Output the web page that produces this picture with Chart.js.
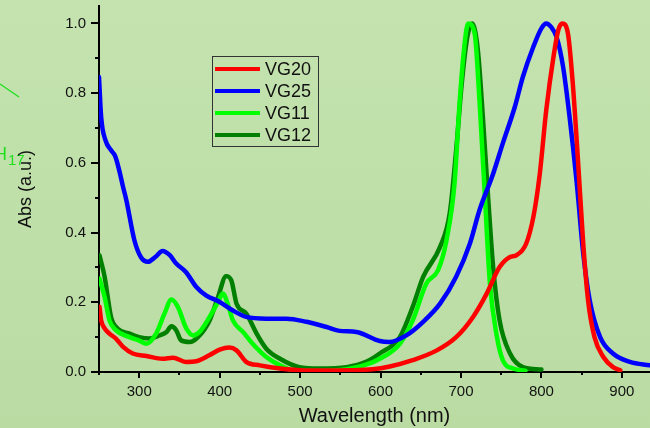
<!DOCTYPE html>
<html><head><meta charset="utf-8">
<script src="https://cdn.jsdelivr.net/npm/chart.js@4/dist/chart.umd.min.js"></script>
<style>html,body{margin:0;padding:0;background:#bfe0a8;}canvas{display:block}</style>
</head><body>
<canvas id="c" width="650" height="428"></canvas>
<script>
// ---- data (wavelength in nm, absorbance normalised) ----
const seriesNames = ['VG20', 'VG25', 'VG11', 'VG12'];

const vg20Nm  = [250.6,252.7,257,263,271,280,292,309,329,342,358,371,387,400,412,421,433,450,475,500,530,560,590,610,640,670,694,715,732,748,761,769,781,790,798,806,815,821,826,833,839,846,852,858,866,877,889,898];
const vg20Abs = [0.187,0.148,0.125,0.11,0.096,0.072,0.053,0.046,0.038,0.041,0.029,0.031,0.048,0.064,0.07,0.062,0.029,0.019,0.01,0.005,0.004,0.005,0.008,0.015,0.034,0.062,0.10,0.158,0.225,0.301,0.33,0.335,0.368,0.445,0.569,0.751,0.904,0.981,1.0,0.971,0.828,0.588,0.368,0.206,0.10,0.043,0.014,0.005];

const vg25Nm  = [250,252.7,258,265,270,275,280,284,294,302,311,320,329,338,346,358,371,383,400,416,433,458,483,508,533,549,570,599,611,632,653,674,694,711,723,740,752,767,777,790,800,806,812,819,827,835,844,852,860,873,889,910,935];
const vg25Abs = [0.846,0.731,0.665,0.636,0.62,0.58,0.53,0.493,0.378,0.33,0.316,0.33,0.347,0.335,0.311,0.287,0.244,0.220,0.201,0.177,0.158,0.153,0.153,0.144,0.129,0.118,0.115,0.089,0.086,0.105,0.144,0.196,0.273,0.368,0.464,0.569,0.656,0.761,0.847,0.933,0.986,1.0,0.99,0.96,0.875,0.732,0.541,0.34,0.206,0.10,0.053,0.029,0.019];

const vg11Nm  = [250.6,257,263,271,288,300,309,321,331.5,340,348,358.5,367,375,387.5,398,404,410,416.5,429,441,458,475,491,520,550,580,599,624,640,657,671.5,682,692,698.5,705,709,717,723,730,736,744,752,765,780];
const vg11Abs = [0.268,0.215,0.148,0.12,0.10,0.09,0.081,0.11,0.168,0.208,0.187,0.125,0.105,0.115,0.158,0.201,0.225,0.196,0.148,0.115,0.081,0.043,0.019,0.005,0.003,0.006,0.02,0.038,0.081,0.148,0.254,0.292,0.378,0.541,0.78,0.952,1.0,0.971,0.78,0.493,0.254,0.11,0.034,0.01,0.004];

const vg12Nm  = [250.6,257,265,273,288,300,313,325,334,340,346,352,362.6,373,387.5,398,408,414.5,421,433,446,458,475,499,524,558,582,599,624,640,653,674,686,694,701,708,714,721,727.5,734,740,748,761,777,800];
const vg12Abs = [0.335,0.273,0.158,0.125,0.11,0.10,0.096,0.105,0.115,0.131,0.12,0.091,0.086,0.10,0.148,0.215,0.275,0.263,0.196,0.168,0.11,0.067,0.038,0.014,0.01,0.014,0.029,0.053,0.10,0.187,0.273,0.359,0.455,0.636,0.828,0.962,1.0,0.923,0.722,0.493,0.301,0.148,0.053,0.014,0.007];

const xTickValues = [300, 400, 500, 600, 700, 800, 900];
const yTickValues = [0, 0.2, 0.4, 0.6, 0.8, 1.0];

// ---- build ----
const FONT = "'Liberation Sans', Arial, sans-serif";
const colors = ['#ff0000', '#0000ff', '#00ff00', '#008000'];
const pairs = [[vg20Nm, vg20Abs], [vg25Nm, vg25Abs], [vg11Nm, vg11Abs], [vg12Nm, vg12Abs]];
const datasets = pairs.map((p, i) => ({
  label: seriesNames[i],
  data: p[0].map((x, j) => ({x: x, y: p[1][j]})),
  borderColor: colors[i],
  backgroundColor: colors[i],
  borderWidth: 4.5,
  pointRadius: 0,
  fill: false,
  cubicInterpolationMode: 'monotone',
  borderCapStyle: 'round',
  borderJoinStyle: 'round'
}));

const bgPlugin = {
  id: 'bg',
  beforeDraw(chart) {
    const ctx = chart.ctx;
    const g = ctx.createLinearGradient(0, 0, 0, chart.height);
    g.addColorStop(0, '#c4e3af');
    g.addColorStop(1, '#badca3');
    ctx.save();
    ctx.fillStyle = g;
    ctx.fillRect(0, 0, chart.width, chart.height);
    // stray fragments at the left edge of the original figure
    ctx.strokeStyle = '#1ee01e';
    ctx.lineWidth = 1.3;
    ctx.beginPath(); ctx.moveTo(0, 84); ctx.lineTo(19, 97); ctx.stroke();
    ctx.fillStyle = '#1ee01e';
    ctx.textBaseline = 'alphabetic';
    ctx.font = '18px ' + FONT;
    ctx.fillText('H', -6, 160);
    ctx.font = '15px ' + FONT;
    ctx.fillText('17', 8, 165);
    ctx.restore();
  }
};

const ticksPlugin = {
  id: 'minorTicks',
  afterDraw(chart) {
    const ctx = chart.ctx;
    const xs = chart.scales.x, ys = chart.scales.y;
    const a = chart.chartArea;
    ctx.save();
    ctx.strokeStyle = '#000';
    ctx.lineWidth = 2;
    ctx.beginPath();
    for (let v = 250; v <= xs.max; v += 50) {
      const px = Math.round(xs.getPixelForValue(v));
      const len = (v % 100 === 0) ? 6 : 3;
      ctx.moveTo(px, a.bottom); ctx.lineTo(px, a.bottom + len);
    }
    for (let k = 0; k <= 10; k++) {
      const v = k / 10;
      const py = Math.round(ys.getPixelForValue(v));
      const len = (k % 2 === 0) ? 8 : 4;
      ctx.moveTo(a.left, py); ctx.lineTo(a.left - len, py);
    }
    ctx.stroke();
    ctx.restore();
  }
};

const legendPlugin = {
  id: 'boxLegend',
  afterDraw(chart) {
    const ctx = chart.ctx;
    ctx.save();
    ctx.strokeStyle = '#333';
    ctx.lineWidth = 1;
    ctx.strokeRect(212.5, 56.5, 106, 90);
    chart.data.datasets.forEach((ds, i) => {
      const y = 69 + i * 22;
      ctx.strokeStyle = ds.borderColor;
      ctx.lineWidth = 4;
      ctx.beginPath(); ctx.moveTo(215, y); ctx.lineTo(260, y); ctx.stroke();
      ctx.fillStyle = '#111';
      ctx.font = '18px ' + FONT;
      ctx.textBaseline = 'middle';
      ctx.fillText(ds.label, 265, y + 1);
    });
    ctx.restore();
  }
};

new Chart(document.getElementById('c'), {
  type: 'line',
  data: { datasets: datasets },
  options: {
    responsive: false,
    animation: false,
    devicePixelRatio: 1,
    layout: { padding: { top: 6, right: 0, left: 0, bottom: 0 } },
    plugins: { legend: { display: false }, tooltip: { enabled: false } },
    scales: {
      x: {
        type: 'linear', min: 250, max: 935,
        afterBuildTicks(s) { s.ticks = xTickValues.map(v => ({value: v})); },
        afterFit(s) { s.height = 56; s.paddingLeft = 0; s.paddingRight = 0; },
        grid: { display: true, drawOnChartArea: false, drawTicks: false },
        border: { display: true, color: '#000', width: 2 },
        ticks: { color: '#111', padding: 11, maxRotation: 0, autoSkip: false,
                 font: { family: FONT, size: 15 }, callback: v => String(v) },
        title: { display: true, text: 'Wavelength (nm)', color: '#111',
                 font: { family: FONT, size: 20 }, padding: { top: 0, bottom: 0 } }
      },
      y: {
        type: 'linear', min: 0, max: 1.05,
        afterBuildTicks(s) { s.ticks = yTickValues.map(v => ({value: v})); },
        afterFit(s) { s.width = 99; s.paddingTop = 0; s.paddingBottom = 0; },
        grid: { display: true, drawOnChartArea: false, drawTicks: false },
        border: { display: true, color: '#000', width: 2 },
        ticks: { color: '#111', padding: 13, autoSkip: false,
                 font: { family: FONT, size: 15 }, callback: v => Number(v).toFixed(1) },
        title: { display: true, text: 'Abs (a.u.)', color: '#111',
                 font: { family: FONT, size: 18 }, padding: { top: 15, bottom: 0 } }
      }
    }
  },
  plugins: [bgPlugin, ticksPlugin, legendPlugin]
});
</script>
</body></html>
